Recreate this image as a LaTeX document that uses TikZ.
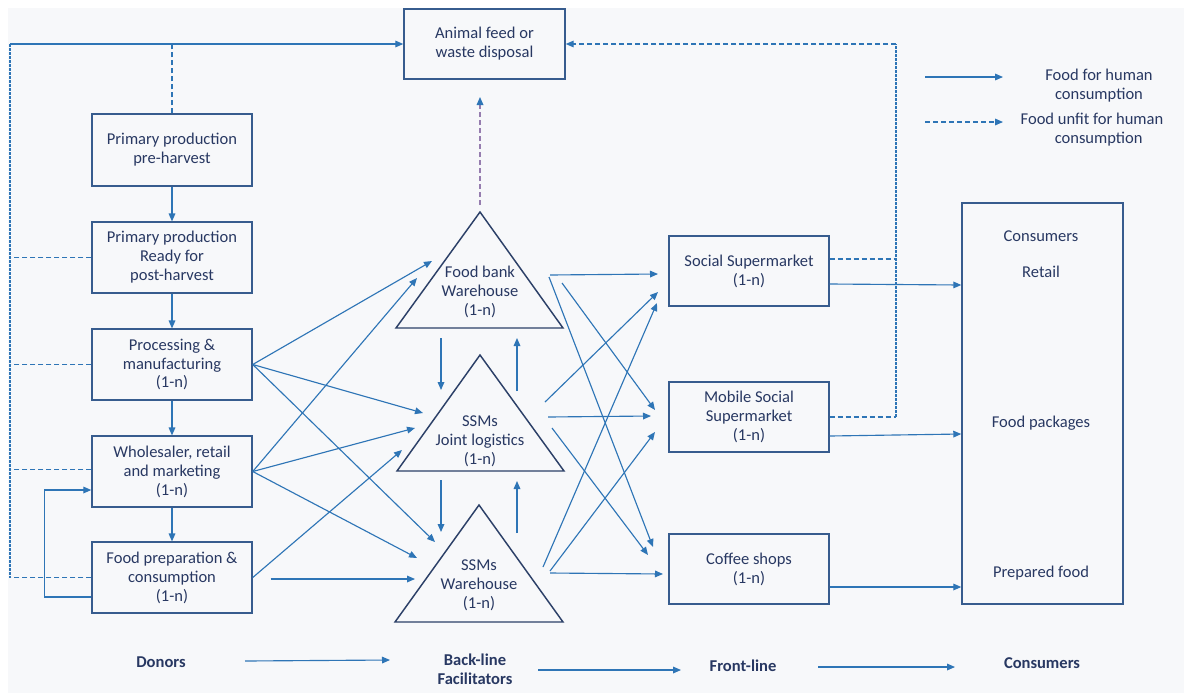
\documentclass[tikz,border=0pt]{standalone}
\usepackage{fontspec}
\setmainfont{Carlito}
\usetikzlibrary{arrows.meta,calc}
\definecolor{flow}{RGB}{46,117,182}
\definecolor{boxline}{RGB}{55,92,142}
\definecolor{triline}{RGB}{44,64,104}
\definecolor{ink}{RGB}{40,56,98}
\definecolor{paper}{RGB}{247,248,250}
\definecolor{mauve}{RGB}{150,125,175}
\begin{document}
\begin{tikzpicture}[x=0.75pt,y=-0.75pt,
  every node/.style={font=\fontsize{12.4}{14.2}\selectfont, text=ink, align=center},
  box/.style={draw=boxline, line width=1.1pt, minimum width=120pt, minimum height=53pt, inner sep=2pt},
  tri/.style={draw=triline, line width=1.1pt, line join=miter},
  tip/.style={-{Triangle[length=6pt,width=5pt]}},
  arr/.style={draw=flow, line width=0.85pt, tip},
  waste/.style={draw=flow, line width=0.85pt, dash pattern=on 3.6pt off 2.4pt},
  fine/.style={draw=flow, line width=0.85pt, dash pattern=on 2pt off 1pt},
  tag/.style={font=\fontsize{12.4}{14.2}\selectfont\bfseries, text=ink}
]
% canvas
\fill[white] (0,0) rectangle (1184,693);
\fill[paper] (8,8) rectangle (1184,693);
\useasboundingbox (0,0) rectangle (1184,693);

% disposal box
\node[box, minimum width=120.75pt, minimum height=52.5pt] (anim) at (484.5,44) {Animal feed or\\waste disposal};

% donor chain
\node[box, minimum height=54pt] (pre) at (172,150) {Primary production\\pre-harvest};
\node[box] (post) at (172,257.5) {Primary production\\Ready for\\post-harvest};
\node[box] (proc) at (172,364.5) {Processing \&\\manufacturing\\(1-n)};
\node[box] (whole) at (172,471.5) {Wholesaler, retail\\and marketing\\(1-n)};
\node[box] (prep) at (172,577.5) {Food preparation \&\\consumption\\(1-n)};

\draw[arr] (pre) -- (post);
\draw[arr] (post) -- (proc);
\draw[arr] (proc) -- (whole);
\draw[arr] (whole) -- (prep);

% back-line facilitators (triangles)
\coordinate (fbA) at (480,212); \coordinate (fbL) at (396,328); \coordinate (fbR) at (563,328);
\coordinate (jlA) at (480,355); \coordinate (jlL) at (397,471); \coordinate (jlR) at (564,471);
\coordinate (swA) at (479,505); \coordinate (swL) at (395,622); \coordinate (swR) at (563,622);
\draw[tri] (fbA) -- (fbR) -- (fbL) -- cycle;
\draw[tri] (jlA) -- (jlR) -- (jlL) -- cycle;
\draw[tri] (swA) -- (swR) -- (swL) -- cycle;
\node (fb) at (480,292) {Food bank\\Warehouse\\(1-n)};
\node (jl) at (480,441) {SSMs\\Joint logistics\\(1-n)};
\node (sw) at (479,585) {SSMs\\Warehouse\\(1-n)};

% front-line boxes
\node[box, minimum height=52.5pt] (ss) at (749,271) {Social Supermarket\\(1-n)};
\node[box, minimum height=52.5pt] (msm) at (749,417) {Mobile Social\\Supermarket\\(1-n)};
\node[box, minimum height=52.5pt] (cof) at (749,569) {Coffee shops\\(1-n)};

% consumers
\node[box, minimum width=120.75pt, minimum height=300.75pt] (cons) at (1042.5,403.5) {};
\node (consT) at (1041,236) {Consumers};
\node (retail) at (1041,272) {Retail};
\node (pack) at (1041,423) {Food packages};
\node (prepd) at (1041,573) {Prepared food};

% legend
\coordinate (lg1a) at (925,77); \coordinate (lg1b) at (1003,77);
\coordinate (lg2a) at (925,122); \coordinate (lg2b) at (1003,122);
\draw[arr] (lg1a) -- (lg1b);
\draw[waste, tip] (lg2a) -- (lg2b);
\node (lgt1) at (1099,86) {Food for human\\consumption};
\node (lgt2) at (1092,130) {Food unfit for human\\\hspace*{10pt}consumption};

% food unfit for human consumption: donor side
\coordinate (corner) at (10,44);
\draw[arr] (corner) -- (anim.west);
\draw[fine] (corner) -- (10,578);
\draw[waste] (pre.north) -- (pre.north |- corner);
\draw[waste] (post.west) -- (post.west -| corner);
\draw[waste] (proc.west) -- (proc.west -| corner);
\draw[waste] ($(whole.west)+(0,-2)$) -- ($(whole.west -| corner)+(0,-2)$);
\draw[waste] (prep.west) -- (prep.west -| corner);

% food unfit: facilitator and front-line side
\coordinate (fbTop) at (480,205);
\draw[mauve, line width=0.85pt, dash pattern=on 3.6pt off 2.4pt] (fbTop) -- (480,104);
\draw[flow, line width=0.85pt, tip] (480,104) -- (480,97);
\coordinate (rcol) at (896,44);
\draw[waste] ($(ss.east)+(0,-12)$) -- ($(ss.east -| rcol)+(0,-12)$);
\draw[waste] (msm.east) -- (msm.east -| rcol);
\draw[fine] (msm.east -| rcol) -- (rcol);
\draw[waste, tip] (rcol) -- (anim.east);

% re-use loop into wholesale
\draw[arr] ($(prep.west)+(0,19.5)$) -- ++(-47,0) |- ($(whole.west)+(0,18.5)$);

% donors to facilitators
\coordinate (fbIn1) at (432,261); \coordinate (fbIn2) at (417,278);
\coordinate (jlIn1) at (423,413); \coordinate (jlIn2) at (415,428); \coordinate (jlIn3) at (402,450);
\coordinate (swIn1) at (435,542); \coordinate (swIn2) at (417,558); \coordinate (swIn3) at (415,579);
\draw[arr] (proc.east) -- (fbIn1);
\draw[arr] (proc.east) -- (jlIn1);
\draw[arr] (proc.east) -- (swIn1);
\draw[arr] (whole.east) -- (fbIn2);
\draw[arr] (whole.east) -- (jlIn2);
\draw[arr] (whole.east) -- (swIn2);
\draw[arr] (prep.east) -- (jlIn3);
\draw[arr] ($(prep.east)+(18,1.5)$) -- (swIn3);

% between facilitators
\draw[arr] (441,338) -- (441,390);
\draw[arr] (517,391) -- (517,338);
\draw[arr] (441,480) -- (441,532);
\draw[arr] (517,533) -- (517,481);

% facilitators to front-line
\coordinate (fbO1) at (550,275); \coordinate (fbO2) at (562,283); \coordinate (fbO3) at (549,277);
\coordinate (jlO1) at (545,402); \coordinate (jlO2) at (548,417); \coordinate (jlO3) at (552,428);
\coordinate (swO1) at (543,567); \coordinate (swO2) at (550,571); \coordinate (swO3) at (550,573);
\coordinate (ssIn1) at (658,274); \coordinate (ssIn2) at (658,292); \coordinate (ssIn3) at (657,303);
\coordinate (msIn1) at (655,410); \coordinate (msIn2) at (651,416); \coordinate (msIn3) at (655,432);
\coordinate (cfIn1) at (653,547); \coordinate (cfIn2) at (648,555); \coordinate (cfIn3) at (663,574);
\draw[arr] (fbO1) -- (ssIn1);
\draw[arr] (fbO2) -- (msIn1);
\draw[arr] (fbO3) -- (cfIn1);
\draw[arr] (jlO1) -- (ssIn2);
\draw[arr] (jlO2) -- (msIn2);
\draw[arr] (jlO3) -- (cfIn2);
\draw[arr] (swO1) -- (ssIn3);
\draw[arr] (swO2) -- (msIn3);
\draw[arr] (swO3) -- (cfIn3);

% front-line to consumers
\draw[arr] ($(ss.east)+(0,13)$) -- ($(ss.east -| cons.west)+(0,14)$);
\draw[arr] ($(msm.east)+(0,19)$) -- ($(msm.east -| cons.west)+(0,17)$);
\draw[arr] ($(cof.east)+(0,18)$) -- ($(cof.east -| cons.west)+(0,18)$);

% stage labels along the bottom
\node[tag] (donors) at (161,662) {Donors};
\node[tag] (backl) at (475,669) {Back-line\\Facilitators};
\node[tag] (frontl) at (743,666) {Front-line};
\node[tag] (consB) at (1042,663) {Consumers};
\draw[arr] ($(donors)+(84,-1)$) -- ($(backl)+(-85,-9)$);
\draw[arr] ($(backl)+(63,1)$) -- ($(frontl)+(-62,4)$);
\draw[arr] ($(frontl)+(75,1)$) -- ($(consB)+(-87,4)$);
\end{tikzpicture}
\end{document}
